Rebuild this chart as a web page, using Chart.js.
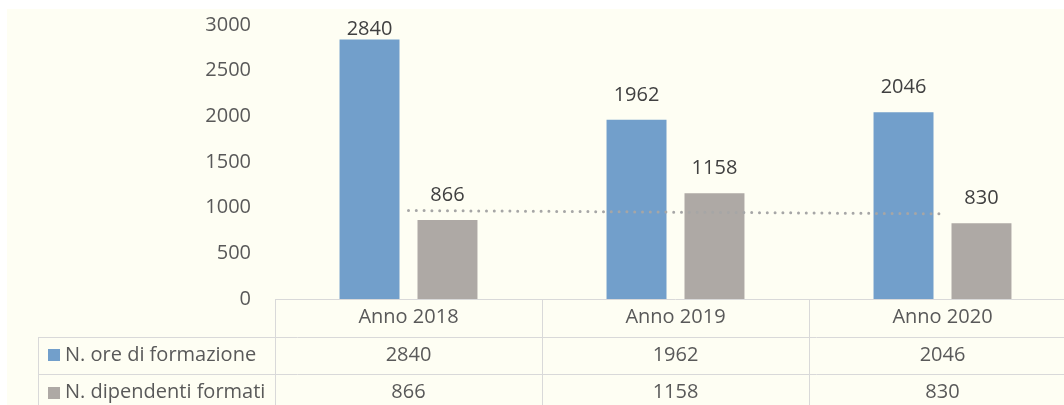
<!DOCTYPE html>
<html>
<head>
<meta charset="utf-8">
<script src="https://cdn.jsdelivr.net/npm/chart.js"></script>
<style>
  html, body { margin: 0; padding: 0; background: #ffffff; overflow: hidden; }
  #bg { position: absolute; left: 7px; top: 9px; width: 1100px; height: 420px; background: #fefef3; }
  #myChart { position: absolute; left: 0; top: 0; }
</style>
</head>
<body>
<div id="bg"></div>
<canvas id="myChart" width="1076" height="405"></canvas>
<script>
var xValues = ["Anno 2018", "Anno 2019", "Anno 2020"];
var oreValues = [2840, 1962, 2046];      // N. ore di formazione
var dipValues = [866, 1158, 830];        // N. dipendenti formati
var trendValues = [969, 951, 933];       // dotted trendline of the grey series
var seriesNames = ["N. ore di formazione", "N. dipendenti formati"];
var barColors = ["#729fcb", "#aea9a5"];

var FONT = "Open Sans";
var FSIZE = 20;
var TEXT = "#595959";

// draws the value above each bar (kept inside the plot area like Excel does)
var barLabels = {
  id: "barLabels",
  afterDatasetsDraw: function(chart) {
    var ctx = chart.ctx;
    ctx.save();
    ctx.font = FSIZE + "px '" + FONT + "'";
    ctx.fillStyle = "#404040";
    ctx.textAlign = "center";
    ctx.textBaseline = "middle";
    chart.data.datasets.forEach(function(ds, i) {
      if (ds.type === "line") return;
      chart.getDatasetMeta(i).data.forEach(function(bar, j) {
        var y = Math.max(bar.y - 25, chart.chartArea.top + 4);
        ctx.fillText(ds.data[j], bar.x, y);
      });
    });
    ctx.restore();
  }
};

// data table under the plot
var dataTable = {
  id: "dataTable",
  afterDraw: function(chart) {
    var ctx = chart.ctx;
    var x = chart.scales.x;
    var top = chart.chartArea.bottom;
    var rowH = 37.5;
    var half = (x.getPixelForValue(1) - x.getPixelForValue(0)) / 2;
    var left = Math.round(x.getPixelForValue(0) - half);
    var right = chart.width;
    var keyLeft = 38;

    ctx.save();
    ctx.strokeStyle = "#d9d9d9";
    ctx.lineWidth = 1;
    ctx.beginPath();
    ctx.moveTo(left, top + 0.5); ctx.lineTo(right, top + 0.5);
    for (var r = 1; r <= 3; r++) {
      var yy = Math.round(top + r * rowH) + 0.5;
      ctx.moveTo(keyLeft, yy); ctx.lineTo(right, yy);
    }
    ctx.moveTo(keyLeft + 0.5, Math.round(top + rowH)); ctx.lineTo(keyLeft + 0.5, chart.height);
    for (var c = 0; c < xValues.length; c++) {
      var vx = Math.round(x.getPixelForValue(c) - half) + 0.5;
      ctx.moveTo(vx, top); ctx.lineTo(vx, chart.height);
    }
    ctx.stroke();

    ctx.font = FSIZE + "px '" + FONT + "'";
    ctx.fillStyle = TEXT;
    ctx.textBaseline = "middle";
    ctx.textAlign = "center";
    xValues.forEach(function(lab, i) {
      var cx = x.getPixelForValue(i);
      ctx.fillText(lab, cx, top + rowH / 2);
      ctx.fillText(oreValues[i], cx, top + rowH * 1.5);
      ctx.fillText(dipValues[i], cx, top + rowH * 2.5);
    });

    ctx.textAlign = "left";
    seriesNames.forEach(function(name, i) {
      var cy = top + rowH * (1.5 + i);
      ctx.fillStyle = barColors[i];
      ctx.fillRect(48, Math.round(cy - 6), 12, 12);
      ctx.fillStyle = TEXT;
      ctx.fillText(name, 65, cy);
    });
    ctx.restore();
  }
};

new Chart("myChart", {
  type: "bar",
  data: {
    labels: xValues,
    datasets: [{
      label: seriesNames[0],
      backgroundColor: barColors[0],
      data: oreValues,
      order: 1
    }, {
      label: seriesNames[1],
      backgroundColor: barColors[1],
      data: dipValues,
      order: 1
    }, {
      type: "line",
      label: "trend",
      data: trendValues,
      borderColor: "#a6a6a6",
      borderWidth: 3,
      borderDash: [0, 7.8],
      borderCapStyle: "round",
      pointRadius: 0,
      fill: false,
      order: 0
    }]
  },
  options: {
    responsive: false,
    animation: false,
    categoryPercentage: 0.584,
    barPercentage: 0.769,
    layout: { padding: { top: 25, bottom: 106, left: 0, right: 0 } },
    plugins: {
      legend: { display: false },
      tooltip: { enabled: false },
      title: { display: false }
    },
    scales: {
      x: { display: false, offset: true },
      y: {
        min: 0,
        max: 3000,
        afterFit: function(scale) {
          scale.width = 275;
          scale.paddingTop = 0;
          scale.paddingBottom = 0;
        },
        grid: { display: false, drawTicks: false },
        border: { display: false },
        ticks: {
          stepSize: 500,
          padding: 24,
          color: TEXT,
          font: { family: FONT, size: FSIZE },
          callback: function(v) { return String(v); }
        }
      }
    }
  },
  plugins: [barLabels, dataTable]
});
</script>
</body>
</html>
